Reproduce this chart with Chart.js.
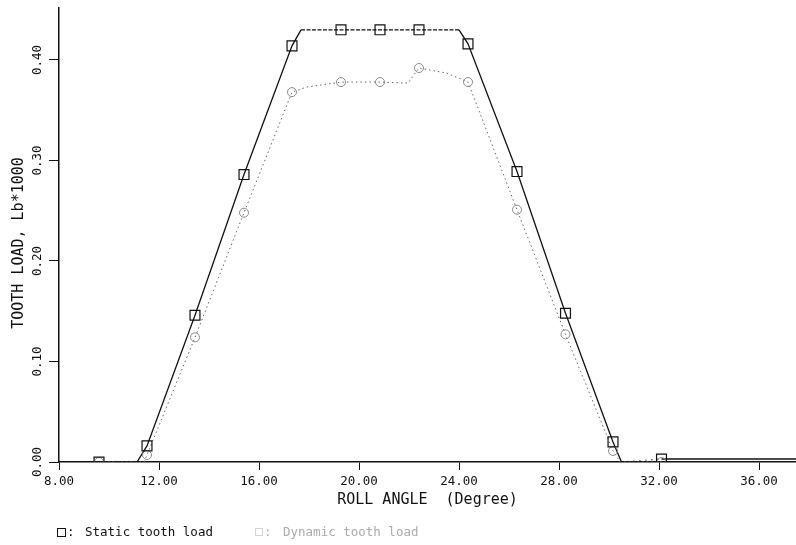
<!DOCTYPE html>
<html lang="en">
<head>
	<meta charset="UTF-8">
	<title>Tooth load vs roll angle</title>
	<script src="https://cdn.jsdelivr.net/npm/chart.js@4.4.1/dist/chart.umd.min.js"></script>
	<style>
		html, body {
			margin: 0;
			padding: 0;
			background: #fff;
		}

		#canvasContainer {
			width: 796px;
			height: 545px;
		}
	</style>
</head>

<body>
	<div id="canvasContainer">
		<canvas id="chart"></canvas>
	</div>

	<script>
		// roll angle (degree) of the plotted markers
		const angle = [9.60, 11.52, 13.44, 15.40, 17.32, 19.28, 20.84, 22.40, 24.36, 26.32, 28.26, 30.16, 32.10];

		// tooth load, Lb*1000
		const staticLoad = [0, 0.016, 0.146, 0.286, 0.414, 0.430, 0.430, 0.430, 0.416, 0.289, 0.148, 0.020, 0.003];
		const dynamicLoad = [0, 0.007, 0.124, 0.248, 0.368, 0.378, 0.378, 0.392, 0.378, 0.251, 0.127, 0.011, 0];

		// curve vertices between markers (no symbol drawn there)
		const staticKneeAngle = [11.12, 17.68, 24.00, 30.50, 37.48];
		const staticKneeLoad = [0, 0.430, 0.430, 0, 0.003];
		const dynamicKneeAngle = [11.40, 17.90, 21.96, 23.50, 30.45];
		const dynamicKneeLoad = [0, 0.373, 0.377, 0.387, 0];

		const xTicks = [8, 12, 16, 20, 24, 28, 32, 36];
		const yTicks = [0, 0.1, 0.2, 0.3, 0.4];

		const xTitle = 'ROLL ANGLE  (Degree)';
		const yTitle = 'TOOTH LOAD, Lb*1000';
		const legendLabels = ['Static tooth load', 'Dynamic tooth load'];

		const mono = '"DejaVu Sans Mono", monospace';

		function points(xs, ys) {
			return xs.map((x, i) => ({ x: x, y: ys[i] }));
		}

		function curve(xs, ys, kx, ky) {
			return points(xs, ys).concat(points(kx, ky)).sort((a, b) => a.x - b.x);
		}

		const staticCurve = curve(angle, staticLoad, staticKneeAngle, staticKneeLoad);
		const dynamicCurve = curve(angle, dynamicLoad, dynamicKneeAngle, dynamicKneeLoad);

		// dotted where the curve lies on zero before / after contact
		function staticDash(ctx) {
			const a = ctx.p0.parsed.x, b = ctx.p1.parsed.x;
			if (b <= 11.2 || (a >= 30.4 && b <= 32.2)) return [1, 5];
			if (ctx.p0.parsed.y > 0.425 && ctx.p1.parsed.y > 0.425) return [4, 1.5];
			return undefined;
		}

		const extras = {
			id: 'extras',
			afterDraw(chart) {
				const c = chart.ctx;
				const y = chart.scales.y;
				c.save();
				c.fillStyle = '#111';
				c.textAlign = 'center';
				c.textBaseline = 'middle';

				// y tick labels, written upward
				c.font = '12.5px ' + mono;
				yTicks.forEach(v => {
					c.save();
					c.translate(38, y.getPixelForValue(v));
					c.rotate(-Math.PI / 2);
					c.fillText(v.toFixed(2), 0, 0);
					c.restore();
				});

				// y title
				c.font = '15px ' + mono;
				c.save();
				c.translate(19, 243);
				c.rotate(-Math.PI / 2);
				c.fillText(yTitle, 0, 0);
				c.restore();

				// legend
				c.font = '12.5px ' + mono;
				c.textAlign = 'left';
				const ly = 533;
				c.strokeStyle = '#111';
				c.lineWidth = 1;
				c.strokeRect(57.5, ly - 4.5, 8, 8);
				c.fillText(':', 67, ly);
				c.fillText(legendLabels[0], 85, ly);

				c.strokeStyle = '#aaa';
				c.fillStyle = '#aaa';
				c.setLineDash([1, 1]);
				c.strokeRect(255.5, ly - 4.5, 7, 7);
				c.setLineDash([]);
				c.fillText(':', 264, ly);
				c.fillText(legendLabels[1], 283, ly);
				c.restore();
			}
		};

		const config = {
			type: 'scatter',
			data: {
				datasets: [
					{
						label: 'static markers',
						data: points(angle, staticLoad),
						showLine: false,
						pointStyle: 'rect',
						pointRadius: 7,
						pointBorderWidth: 1.2,
						pointBorderColor: '#111',
						pointBackgroundColor: 'rgba(0,0,0,0)',
						order: 1
					},
					{
						label: 'dynamic markers',
						data: points(angle, dynamicLoad),
						showLine: false,
						pointStyle: 'circle',
						pointRadius: 4.5,
						pointBorderWidth: 1,
						pointBorderColor: '#888',
						pointBackgroundColor: 'rgba(0,0,0,0)',
						order: 2
					},
					{
						label: legendLabels[0],
						data: staticCurve,
						showLine: true,
						borderColor: '#111',
						borderWidth: 1.3,
						pointRadius: 0,
						segment: { borderDash: staticDash },
						order: 3
					},
					{
						label: legendLabels[1],
						data: dynamicCurve,
						showLine: true,
						borderColor: '#666',
						borderWidth: 1,
						borderDash: [1.5, 3],
						pointRadius: 0,
						order: 4
					}
				]
			},
			plugins: [extras],
			options: {
				responsive: true,
				maintainAspectRatio: false,
				animation: false,
				layout: {
					autoPadding: false,
					padding: { top: 8, right: 0, bottom: 0, left: 0 }
				},
				plugins: {
					legend: { display: false },
					tooltip: { enabled: false }
				},
				scales: {
					x: {
						type: 'linear',
						min: 8,
						max: 37.48,
						afterBuildTicks: s => { s.ticks = xTicks.map(v => ({ value: v })); },
						afterFit: s => {
							s.height = 83;
							s.paddingLeft = 0;
							s.paddingRight = 0;
						},
						ticks: {
							color: '#111',
							padding: 4,
							maxRotation: 0,
							font: { family: mono, size: 12.5 },
							callback: v => v.toFixed(2)
						},
						grid: {
							drawOnChartArea: false,
							drawTicks: true,
							tickLength: 8,
							color: '#111'
						},
						border: { color: '#111', width: 1.5 },
						title: {
							display: true,
							text: xTitle,
							color: '#111',
							font: { family: mono, size: 15 },
							padding: { top: 0, bottom: 36 }
						}
					},
					y: {
						min: 0,
						max: 0.4517,
						afterBuildTicks: s => { s.ticks = yTicks.map(v => ({ value: v })); },
						afterFit: s => {
							s.width = 59;
							s.paddingTop = 0;
							s.paddingBottom = 0;
						},
						ticks: { display: false },
						grid: {
							drawOnChartArea: false,
							drawTicks: true,
							tickLength: 10,
							color: '#111'
						},
						border: { color: '#111', width: 1.5 }
					}
				}
			}
		};

		const chart = new Chart(document.getElementById('chart'), config);
	</script>
</body>

</html>
